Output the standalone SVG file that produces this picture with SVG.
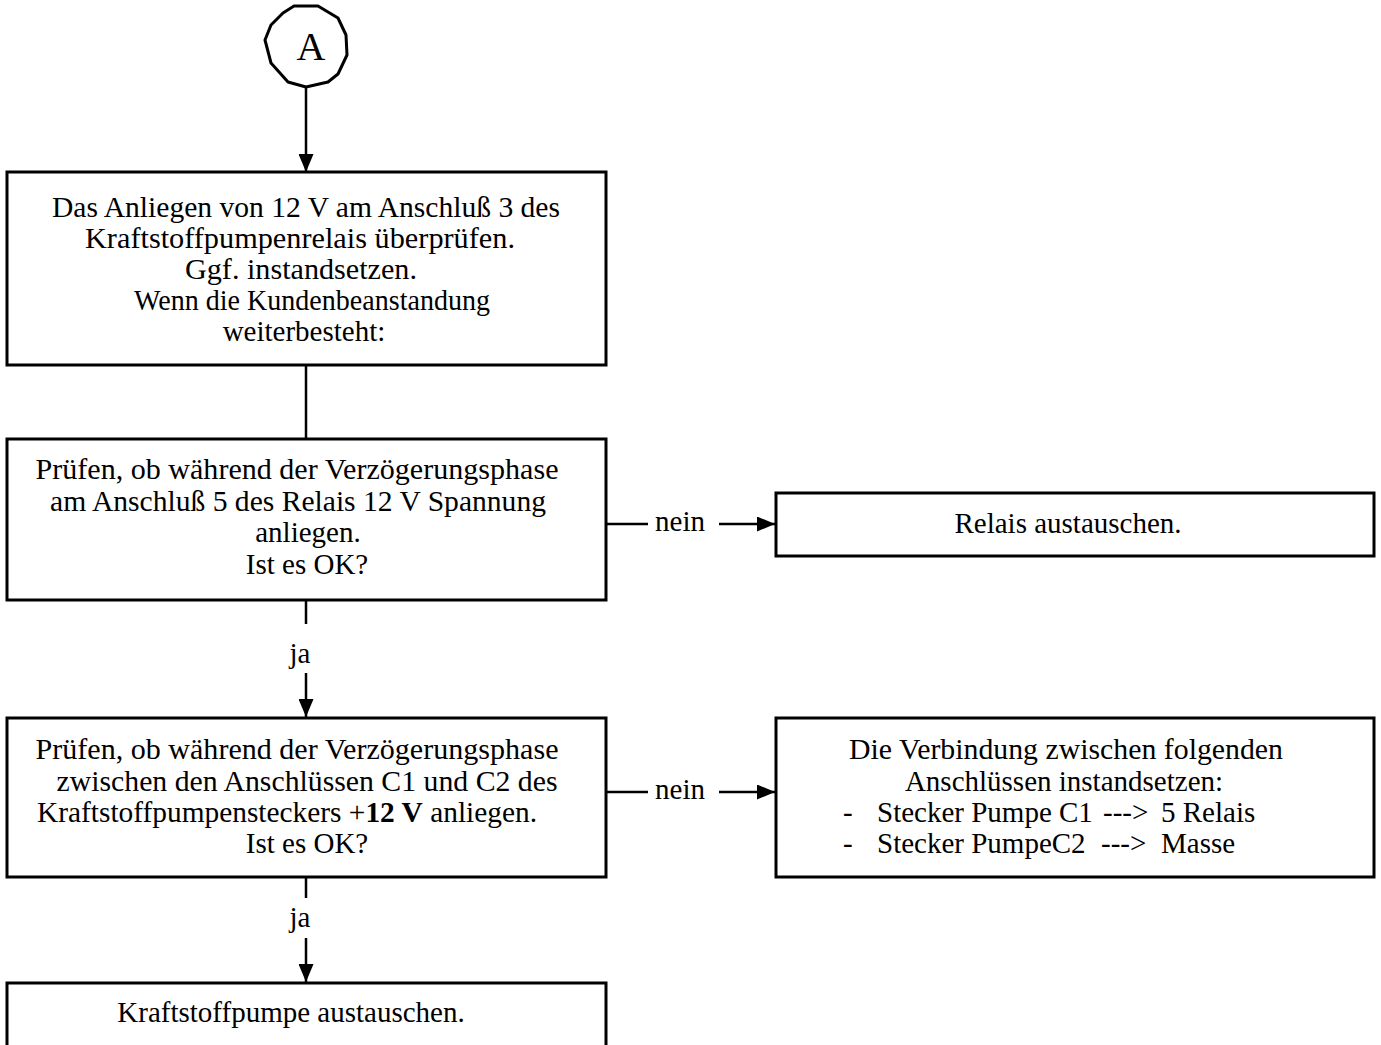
<svg xmlns="http://www.w3.org/2000/svg" width="1381" height="1045" viewBox="0 0 1381 1045">
  <style>
    .box { fill: #fff; stroke: #000; stroke-width: 3; }
    .t { font-family: "Liberation Serif", "Times New Roman", serif; font-size: 29px; fill: #000; }
    .m { text-anchor: middle; }
    .c { stroke: #000; stroke-width: 2.5; fill: none; }
    .b { font-weight: bold; }
  </style>
  <defs>
    <marker id="arrow" viewBox="0 0 18 15" refX="18" refY="7.5" markerWidth="18" markerHeight="15" markerUnits="userSpaceOnUse" orient="auto">
      <path d="M0,0 L18,7.5 L0,15 z" fill="#000"/>
    </marker>
  </defs>
  <rect width="1381" height="1045" fill="#fff"/>

  <!-- connectors -->
  <g id="connectors">
    <line class="c" x1="306" y1="87" x2="306" y2="172" marker-end="url(#arrow)"/>
    <line class="c" x1="306" y1="365" x2="306" y2="439"/>
    <line class="c" x1="606" y1="524" x2="648" y2="524"/>
    <line class="c" x1="719" y1="524" x2="775" y2="524" marker-end="url(#arrow)"/>
    <text class="t m" x="680" y="531">nein</text>
    <line class="c" x1="306" y1="600" x2="306" y2="624"/>
    <text class="t m" x="300" y="663">ja</text>
    <line class="c" x1="306" y1="673" x2="306" y2="717" marker-end="url(#arrow)"/>
    <line class="c" x1="606" y1="792" x2="648" y2="792"/>
    <line class="c" x1="719" y1="792" x2="775" y2="792" marker-end="url(#arrow)"/>
    <text class="t m" x="680" y="799">nein</text>
    <line class="c" x1="306" y1="877" x2="306" y2="898"/>
    <text class="t m" x="300" y="927">ja</text>
    <line class="c" x1="306" y1="938" x2="306" y2="982" marker-end="url(#arrow)"/>
  </g>

  <!-- connector A -->
  <g id="start-A">
    <polygon points="294,6 318,6 338,18 346,35 347,55 338,74 328,82 306,87 288,82 271,63 265,40 271,25 283,13" fill="#fff" stroke="#000" stroke-width="3" stroke-linejoin="round"/>
    <text class="t m" x="311" y="60" style="font-size:40px">A</text>
  </g>

  <g id="check-terminal-3">
    <rect class="box" x="7" y="172" width="599" height="193"/>
    <text class="t m" x="306" y="217" textLength="508" lengthAdjust="spacingAndGlyphs">Das Anliegen von 12 V am Anschluß 3 des</text>
    <text class="t m" x="300" y="248" textLength="430" lengthAdjust="spacingAndGlyphs">Kraftstoffpumpenrelais überprüfen.</text>
    <text class="t m" x="301" y="279" textLength="232" lengthAdjust="spacingAndGlyphs">Ggf. instandsetzen.</text>
    <text class="t m" x="312" y="310" textLength="356" lengthAdjust="spacingAndGlyphs">Wenn die Kundenbeanstandung</text>
    <text class="t m" x="304" y="341">weiterbesteht:</text>
  </g>

  <g id="check-terminal-5">
    <rect class="box" x="7" y="439" width="599" height="161"/>
    <text class="t m" x="297" y="479" textLength="523" lengthAdjust="spacingAndGlyphs">Prüfen, ob während der Verzögerungsphase</text>
    <text class="t m" x="298" y="511" textLength="496" lengthAdjust="spacingAndGlyphs">am Anschluß 5 des Relais 12 V Spannung</text>
    <text class="t m" x="308" y="542">anliegen.</text>
    <text class="t m" x="307" y="574">Ist es OK?</text>
  </g>

  <g id="replace-relay">
    <rect class="box" x="776" y="493" width="598" height="63"/>
    <text class="t m" x="1068" y="533">Relais austauschen.</text>
  </g>

  <g id="check-pump-connector">
    <rect class="box" x="7" y="718" width="599" height="159"/>
    <text class="t m" x="297" y="759" textLength="523" lengthAdjust="spacingAndGlyphs">Prüfen, ob während der Verzögerungsphase</text>
    <text class="t m" x="307" y="791" textLength="501" lengthAdjust="spacingAndGlyphs">zwischen den Anschlüssen C1 und C2 des</text>
    <text class="t m" x="287" y="822" textLength="500" lengthAdjust="spacingAndGlyphs">Kraftstoffpumpensteckers +<tspan class="b">12 V</tspan> anliegen.</text>
    <text class="t m" x="307" y="853">Ist es OK?</text>
  </g>

  <g id="repair-wiring">
    <rect class="box" x="776" y="718" width="598" height="159"/>
    <text class="t m" x="1066" y="759" textLength="434" lengthAdjust="spacingAndGlyphs">Die Verbindung zwischen folgenden</text>
    <text class="t m" x="1064" y="791">Anschlüssen instandsetzen:</text>
    <text class="t" x="843" y="822">-</text>
    <text class="t" x="877" y="822">Stecker Pumpe C1</text>
    <text class="t" x="1103" y="822">---&gt;</text>
    <text class="t" x="1161" y="822">5 Relais</text>
    <text class="t" x="843" y="853">-</text>
    <text class="t" x="877" y="853">Stecker PumpeC2</text>
    <text class="t" x="1101" y="853">---&gt;</text>
    <text class="t" x="1161" y="853">Masse</text>
  </g>

  <g id="replace-pump">
    <rect class="box" x="7" y="983" width="599" height="80"/>
    <text class="t m" x="291" y="1022">Kraftstoffpumpe austauschen.</text>
  </g>
</svg>
